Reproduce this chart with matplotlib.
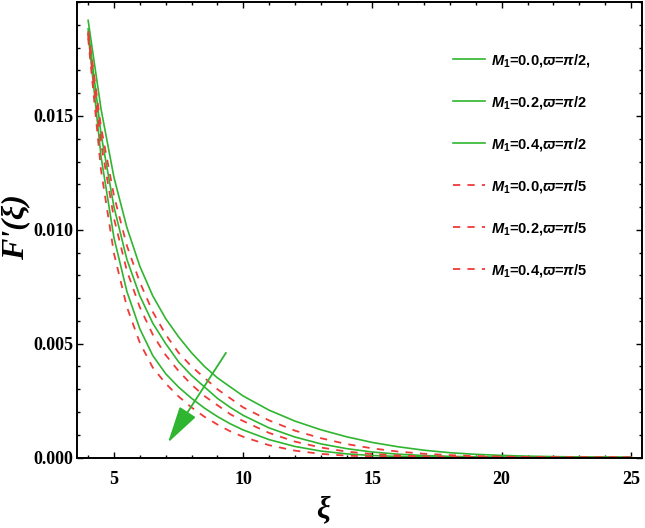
import matplotlib
matplotlib.use("Agg")
import matplotlib.pyplot as plt
from matplotlib.ticker import MultipleLocator

# ── data ──────────────────────────────────────────────────────────────────────
xi = [4, 4.5, 5, 5.5, 6, 6.5, 7, 7.5, 8, 8.5, 9, 9.5, 10, 11, 12, 13, 14, 15,
      16, 17, 18, 19, 20, 21, 22, 23, 24, 25]

g_m00 = [0.0192, 0.0153, 0.0123, 0.0101, 0.0084, 0.0071, 0.0061, 0.0053,
         0.0046, 0.0040, 0.0035, 0.0031, 0.0027, 0.00208, 0.0016, 0.00122,
         0.00091, 0.00066, 0.00047, 0.00032, 0.00021, 0.00014, 0.000093,
         0.00006, 0.00004, 0.000025, 0.000015, 0.00001]
g_m02 = [0.01882, 0.0142, 0.0110, 0.0087, 0.0071, 0.0059, 0.0050, 0.0042,
         0.0036, 0.0031, 0.0026, 0.0022, 0.00185, 0.0013, 0.0009, 0.0006,
         0.00039, 0.00024, 0.000146, 0.000087, 0.000051, 0.00003, 0.000016,
         0.0000093, 0.000005, 0.000003, 0.000002, 0.000001]
g_m04 = [0.01862, 0.01321, 0.00965, 0.00729, 0.00565, 0.00448, 0.00368,
         0.00309, 0.0026, 0.00217, 0.0018, 0.00148, 0.00121, 0.000786,
         0.000486, 0.000284, 0.00016, 0.000088, 0.000047, 0.000024, 0.000013,
         0.000007, 0.000004, 0.000002, 0.000001, 0.000001, 0.0, 0.0]
r_m00 = [0.01872, 0.0145, 0.0115, 0.0093, 0.0077, 0.0064, 0.0054, 0.0046,
         0.0040, 0.0035, 0.0030, 0.0026, 0.0022, 0.00163, 0.00118, 0.00085,
         0.00059, 0.0004, 0.00026, 0.000165, 0.000104, 0.000064, 0.00004,
         0.000024, 0.000014, 0.0000088, 0.0000052, 0.0000033]
r_m02 = [0.01862, 0.0138, 0.0105, 0.0082, 0.0066, 0.0054, 0.0045, 0.0038,
         0.0032, 0.0027, 0.0023, 0.0019, 0.0016, 0.00108, 0.0007, 0.00044,
         0.00026, 0.000152, 0.000087, 0.000049, 0.000027, 0.000015, 0.000008,
         0.000005, 0.000003, 0.000002, 0.000001, 0.000001]
r_m04 = [0.01843, 0.01261, 0.00896, 0.00661, 0.00504, 0.00395, 0.00325,
         0.00268, 0.0022, 0.00179, 0.00145, 0.00115, 0.00091, 0.00054,
         0.000302, 0.000159, 0.000082, 0.000041, 0.000019, 0.00001, 0.000005,
         0.000002, 0.000001, 0.0, 0.0, 0.0, 0.0, 0.0]

green_labels = [r"$M_1$=0.0,$\varpi$=$\pi$/2,", r"$M_1$=0.2,$\varpi$=$\pi$/2",
                r"$M_1$=0.4,$\varpi$=$\pi$/2"]
red_labels = [r"$M_1$=0.0,$\varpi$=$\pi$/5", r"$M_1$=0.2,$\varpi$=$\pi$/5",
              r"$M_1$=0.4,$\varpi$=$\pi$/5"]

# arrow (direction of increasing M1)
ARROW_FROM = (9.39, 0.0047)
ARROW_TO = (7.03, 0.00055)

GREEN = "#2fb52f"
RED = "#f03a3a"

plt.rcParams["mathtext.fontset"] = "custom"
plt.rcParams["mathtext.rm"] = "Liberation Sans:bold"
plt.rcParams["mathtext.it"] = "Liberation Sans:bold:italic"

fig = plt.figure(figsize=(6.45, 5.28), dpi=100)
ax = fig.add_axes([0.119, 0.1335, 0.876, 0.8625])

for ys, lab in zip([g_m00, g_m02, g_m04], green_labels):
    ax.plot(xi, ys, color=GREEN, lw=1.2, label=lab)
for ys, lab in zip([r_m00, r_m02, r_m04], red_labels):
    ax.plot(xi, ys, color=RED, lw=1.3, dashes=(4, 4), label=lab)

ax.annotate("", xy=ARROW_TO, xytext=ARROW_FROM,
            arrowprops=dict(arrowstyle="-|>,head_length=1.15,head_width=0.3",
                            color=GREEN, lw=1.3, mutation_scale=20))

ax.set_xlim(3.56, 25.42)
ax.set_ylim(0, 0.02)
ax.set_xticks([5, 10, 15, 20, 25])
ax.set_yticks([0.0, 0.005, 0.010, 0.015])
ax.set_yticklabels(["0.000", "0.005", "0.010", "0.015"])
ax.xaxis.set_minor_locator(MultipleLocator(1))
ax.yaxis.set_minor_locator(MultipleLocator(0.001))
ax.tick_params(which="both", direction="in", top=True, right=True, width=1.0)
ax.tick_params(which="major", length=4)
ax.tick_params(which="minor", length=2)
ax.tick_params(axis="x", which="major", pad=9.5)
ax.tick_params(axis="y", which="major", pad=2.5)
for lbl in ax.get_xticklabels() + ax.get_yticklabels():
    lbl.set_family("Liberation Serif")
    lbl.set_fontweight("bold")
    lbl.set_fontsize(13)
for sp in ax.spines.values():
    sp.set_linewidth(1.4)

fig.text(0.025, 0.57, "F'(ξ)", rotation=90, ha="center", va="center",
         fontsize=23, family="Liberation Serif", fontweight="bold",
         fontstyle="italic")
fig.text(0.50, 0.035, "ξ", ha="center", va="center", fontsize=22,
         family="Liberation Serif", fontweight="bold", fontstyle="italic")

ax.legend(loc="upper left", bbox_to_anchor=(0.642, 0.92), frameon=False,
          handlelength=2.2, labelspacing=1.72, handletextpad=0.45,
          prop={"family": "Liberation Sans", "weight": "bold", "size": 10.5})

fig.savefig("out.png", dpi=100)
